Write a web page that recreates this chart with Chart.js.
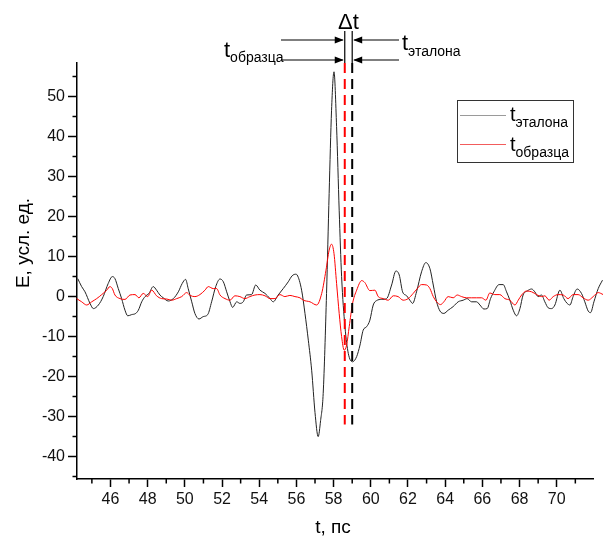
<!DOCTYPE html>
<html>
<head>
<meta charset="utf-8">
<script src="https://cdn.jsdelivr.net/npm/chart.js@4"></script>
<style>
    html, body { margin: 0; padding: 0; background: #fff; }
    #wrap { width: 603px; height: 540px; }
</style>
</head>
<body>
<div id="wrap"><canvas id="pulse-chart" width="603" height="540"></canvas></div>
<script>
const pulseChartCanvas = document.querySelector("#pulse-chart");
const fontFamily = "'Liberation Sans', Arial, sans-serif";

// reference pulse (t_эталона)
const refTime = [44.24, 44.45, 44.63, 44.9, 45.08, 45.35, 45.61, 45.88, 46.1, 46.24, 46.42, 46.6, 46.78, 46.93, 47.14, 47.36, 47.5, 47.68, 47.86, 48.07,
    48.3, 48.48, 48.66, 48.84, 49.11, 49.38, 49.65, 49.86, 50.04, 50.18, 50.37, 50.54, 50.76, 50.99, 51.23, 51.44, 51.66, 51.89, 52.07, 52.25,
    52.43, 52.57, 52.79, 52.96, 53.14, 53.32, 53.59, 53.81, 54.04, 54.31, 54.58, 54.75, 55.02, 55.29, 55.56, 55.77, 55.96, 56.04, 56.28, 56.46,
    56.64, 56.82, 57.0, 57.17, 57.3, 57.44, 57.62, 57.76, 57.89, 58.02, 58.16, 58.3, 58.43, 58.61, 58.79, 59.02, 59.24, 59.42, 59.59, 59.78,
    59.95, 60.13, 60.31, 60.58, 60.85, 61.12, 61.35, 61.53, 61.71, 61.93, 62.1, 62.25, 62.46, 62.73, 62.96, 63.18, 63.36, 63.54, 63.72, 63.93,
    64.16, 64.43, 64.7, 64.97, 65.18, 65.42, 65.69, 65.87, 66.08, 66.26, 66.44, 66.62, 66.9, 67.12, 67.3, 67.48, 67.66, 67.84, 68.02, 68.19,
    68.41, 68.65, 68.82, 69.0, 69.18, 69.36, 69.54, 69.72, 69.9, 70.17, 70.38, 70.56, 70.71, 70.88, 71.1, 71.33, 71.51, 71.69, 71.82, 72.0,
    72.23, 72.46];
const refField = [4.5, 2.5, 1.2, -1.7, -3, -2.1, 0, 3.3, 5, 4.5, 2, -0.5, -3.4, -4.8, -4.5, -4.2, -3.4, -1.3, 0, 0.8,
    2.5, 1.6, 0.4, -0.3, -1.1, -0.5, 1.2, 3.3, 4.3, 2, -1.3, -4.2, -5.6, -5, -4.5, -1.3, 2.5, 4.4, 3.7, 1.2,
    -1.3, -2.7, -1.3, -1.7, -1.3, 0.4, 0.5, 2.9, 1.6, 0.8, -0.5, -1.3, 0.4, 2, 3.7, 5.2, 5.6, 5.4, 1.6, -4.2,
    -10.9, -18.4, -29, -35, -31, -24.2, 0.8, 25.8, 46.6, 56.2, 42.5, 21.6, 5, -7.5, -14.2, -16.3, -15, -12.1, -8.4, -7.5,
    -5.9, -2.1, -1, -0.7, -0.5, 2.9, 6.4, 5.4, 1.2, 0.2, -0.9, -1.7, 1.2, 6.2, 8.5, 7, 2.9, -1.3, -3.6, -4.2,
    -3.4, -2.5, -1.3, -0.9, -0.5, -1.3, -1.3, -2.1, -3.1, -3, -0.5, 1.2, 3, 3, 1.2, -0.9, -3.4, -4.8, -3, 0.4,
    1.4, 1.9, 1.2, 0, 0.4, -1.3, -2.8, -3, -2.1, 1.6, -0.5, -1.7, -2.1, 0, 1.9, 0.8, -1.3, -3.6, -4, -1.3,
    2, 4.1];

// sample pulse (t_образца)
const sampleTime = [44.18, 44.45, 44.72, 44.99, 45.26, 45.53, 45.8, 45.97, 46.1, 46.24, 46.51, 46.78, 47.05, 47.32, 47.53, 47.76, 48.0, 48.22, 48.48, 48.75,
    49.02, 49.29, 49.56, 49.83, 50.1, 50.28, 50.54, 50.81, 51.08, 51.26, 51.53, 51.71, 51.89, 52.16, 52.43, 52.69, 52.96, 53.23, 53.5, 53.77,
    54.04, 54.31, 54.58, 54.85, 55.11, 55.38, 55.65, 55.92, 56.19, 56.37, 56.73, 57.09, 57.36, 57.59, 57.76, 57.89, 58.02, 58.16, 58.3, 58.43,
    58.57, 58.7, 58.84, 59.02, 59.24, 59.51, 59.68, 59.95, 60.22, 60.4, 60.67, 60.94, 61.21, 61.47, 61.74, 62.01, 62.28, 62.5, 62.73, 63.0,
    63.18, 63.36, 63.54, 63.75, 63.93, 64.16, 64.43, 64.65, 64.88, 65.15, 65.42, 65.69, 65.96, 66.19, 66.4, 66.67, 66.94, 67.21, 67.48, 67.75,
    67.93, 68.11, 68.38, 68.65, 68.92, 69.18, 69.36, 69.59, 69.81, 70.08, 70.35, 70.61, 70.88, 71.15, 71.42, 71.69, 71.96, 72.23, 72.5];
const sampleField = [-0.5, -1.3, -2.1, -1.3, -0.5, 0.5, 1.6, 2.5, 2, 0.4, -0.5, -0.7, 0.4, 0.5, -0.3, 0.8, 0, 1.6, 0.2, -0.5,
    -0.6, -0.9, -0.5, 0, 1, 0.3, 0, 0.5, 1.6, 2.5, 2, 2, 0.4, -0.5, -0.9, 0.2, 0, -0.5, 0, 0.4,
    0.5, 0.2, -0.5, -0.5, 0.5, 0, 0.3, 0, -0.3, -0.9, -1.3, -2.1, 0.8, 6.6, 11.6, 13.1, 10.8, 3.3, -4.2, -10,
    -13.4, -12.1, -7.5, -1.7, 1.6, 4, 3.5, 1.5, 1.6, 0, -0.5, -0.9, 0.2, 0, -0.9, -0.5, 0.8, 2, 3, 2.9,
    2, 0, -1.3, -2, -1.3, 0, -0.3, 0.4, 0, -0.3, -0.3, -0.3, -0.3, -0.9, 0.9, 0.5, 0.5, -0.5, -0.9, -2.1,
    -0.9, 0.4, 1.4, 1.2, 0.5, 0, 0.2, -0.9, 0, 0.5, 0.4, -0.5, 0.5, 0.5, -0.3, -0.9, 0, 1, 0.5];

const xRange = [44.2, 71.95];
const yRange = [-45.6, 58.4];
const sampleMinTime = 58.6;   // red dashed marker
const refMinTime = 59.0;      // black dashed marker
const markerBottom = -32;


function toPoints(times, values) {
    return times.map((t, i) => ({ x: t, y: values[i] }));
};


function drawSubText(ctx, base, sub, x, y, bigSize, subSize, drop) {
    ctx.font = `${bigSize}px ${fontFamily}`;
    ctx.fillText(base, x, y);
    const w = ctx.measureText(base).width;
    ctx.font = `${subSize}px ${fontFamily}`;
    ctx.fillText(sub, x + w, y + drop);
};


function arrowHead(ctx, x, y, dir) {
    ctx.beginPath();
    ctx.moveTo(x, y);
    ctx.lineTo(x - dir * 9, y - 3.5);
    ctx.lineTo(x - dir * 9, y + 3.5);
    ctx.closePath();
    ctx.fill();
};


const minorTicksPlugin = {
    id: 'minorTicks',
    afterDraw(chart) {
        const { ctx, scales: { x, y } } = chart;
        ctx.save();
        ctx.strokeStyle = '#000';
        ctx.lineWidth = 1.5;
        ctx.beginPath();
        for (let t = 45; t < x.max; t += 2) {
            const px = x.getPixelForValue(t);
            ctx.moveTo(px, x.top);
            ctx.lineTo(px, x.top + 4.5);
        }
        for (let v = -45; v < y.max; v += 10) {
            if (v < y.min) continue;
            const py = y.getPixelForValue(v);
            ctx.moveTo(y.right, py);
            ctx.lineTo(y.right - 4.5, py);
        }
        ctx.stroke();

        // axis titles
        ctx.fillStyle = '#000';
        ctx.textAlign = 'center';
        ctx.textBaseline = 'middle';
        ctx.font = `19px ${fontFamily}`;
        ctx.fillText('t, пс', 333, 528);
        ctx.translate(24, 243);
        ctx.rotate(-Math.PI / 2);
        ctx.fillText('E, усл. ед.', 0, 0);
        ctx.restore();
    }
};


const markersPlugin = {
    id: 'markers',
    afterDatasetsDraw(chart) {
        const { ctx, scales: { x, y }, chartArea } = chart;
        const xr = x.getPixelForValue(sampleMinTime);
        const xb = x.getPixelForValue(refMinTime);
        const yBottom = y.getPixelForValue(markerBottom);
        ctx.save();

        // dashed markers
        ctx.lineWidth = 2;
        ctx.setLineDash([10, 6]);
        ctx.strokeStyle = '#ff0000';
        ctx.beginPath();
        ctx.moveTo(xr, chartArea.top);
        ctx.lineTo(xr, yBottom);
        ctx.stroke();
        ctx.strokeStyle = '#000';
        ctx.beginPath();
        ctx.moveTo(xb, chartArea.top);
        ctx.lineTo(xb, yBottom);
        ctx.stroke();
        ctx.setLineDash([]);

        // Δt bracket
        ctx.lineWidth = 1.2;
        ctx.strokeStyle = '#000';
        ctx.fillStyle = '#000';
        ctx.beginPath();
        ctx.moveTo(xr, 31);
        ctx.lineTo(xr, chartArea.top);
        ctx.moveTo(xb, 31);
        ctx.lineTo(xb, chartArea.top);
        [40, 60].forEach(yy => {
            ctx.moveTo(281, yy);
            ctx.lineTo(xr - 2, yy);
            ctx.moveTo(399, yy);
            ctx.lineTo(xb + 2, yy);
        });
        ctx.stroke();
        [40, 60].forEach(yy => {
            arrowHead(ctx, xr - 1, yy, 1);
            arrowHead(ctx, xb + 1, yy, -1);
        });

        ctx.textAlign = 'center';
        ctx.textBaseline = 'alphabetic';
        ctx.font = `22px ${fontFamily}`;
        ctx.fillText('\u0394t', (xr + xb) / 2, 29);

        ctx.textAlign = 'left';
        drawSubText(ctx, 't', 'эталона', 402, 50, 22, 14, 6);
        drawSubText(ctx, 't', 'образца', 224, 57, 22, 14, 5);

        // legend
        ctx.lineWidth = 1;
        ctx.strokeStyle = '#333';
        ctx.strokeRect(457.5, 100.5, 116, 62);
        ctx.strokeStyle = '#9a9a9a';
        ctx.beginPath();
        ctx.moveTo(460, 115.5);
        ctx.lineTo(506, 115.5);
        ctx.stroke();
        ctx.strokeStyle = '#f25c5c';
        ctx.beginPath();
        ctx.moveTo(460, 144.5);
        ctx.lineTo(506, 144.5);
        ctx.stroke();
        ctx.fillStyle = '#000';
        drawSubText(ctx, 't', 'эталона', 510, 121, 20, 14, 6);
        drawSubText(ctx, 't', 'образца', 510, 151, 20, 14, 6);
        ctx.restore();
    }
};


const pulseChartConfig = {
    type: 'line',
    data: {
        datasets: [{
            label: 't эталона',
            data: toPoints(refTime, refField),
            borderColor: '#222',
            borderWidth: 1,
            pointRadius: 0,
            cubicInterpolationMode: 'monotone',
            clip: false,
            order: 1,
        }, {
            label: 't образца',
            data: toPoints(sampleTime, sampleField),
            borderColor: '#ff0000',
            borderWidth: 1,
            pointRadius: 0,
            cubicInterpolationMode: 'monotone',
            clip: false,
            order: 0,
        }]
    },
    options: {
        responsive: false,
        animation: false,
        layout: {
            padding: { top: 63, right: 10, left: 0, bottom: 0 }
        },
        plugins: {
            legend: { display: false },
            tooltip: { enabled: false },
        },
        scales: {
            x: {
                type: 'linear',
                // range is set after the ticks are built, so the curves run on past the axis end
                afterBuildTicks: (scale) => {
                    scale.min = xRange[0];
                    scale.max = xRange[1];
                    scale.ticks = scale.ticks.filter(t => t.value > xRange[0] && t.value < xRange[1]);
                },
                afterFit: (scale) => { scale.height = 61; },
                ticks: {
                    stepSize: 2,
                    autoSkip: false,
                    maxRotation: 0,
                    padding: 3,
                    color: '#111',
                    font: { size: 16, family: fontFamily },
                },
                grid: { drawOnChartArea: false, tickLength: 8, tickWidth: 1.5, tickColor: '#000' },
                border: { color: '#000', width: 1.5 },
            },
            y: {
                type: 'linear',
                min: yRange[0],
                max: yRange[1],
                afterFit: (scale) => { scale.width = 77; },
                ticks: {
                    stepSize: 10,
                    includeBounds: false,
                    padding: 3,
                    color: '#111',
                    font: { size: 16, family: fontFamily },
                },
                grid: { drawOnChartArea: false, tickLength: 9, tickWidth: 1.5, tickColor: '#000' },
                border: { color: '#000', width: 1.5 },
            }
        }
    },
    plugins: [minorTicksPlugin, markersPlugin]
};

const pulseChart = new Chart(pulseChartCanvas, pulseChartConfig);
</script>
</body>
</html>
